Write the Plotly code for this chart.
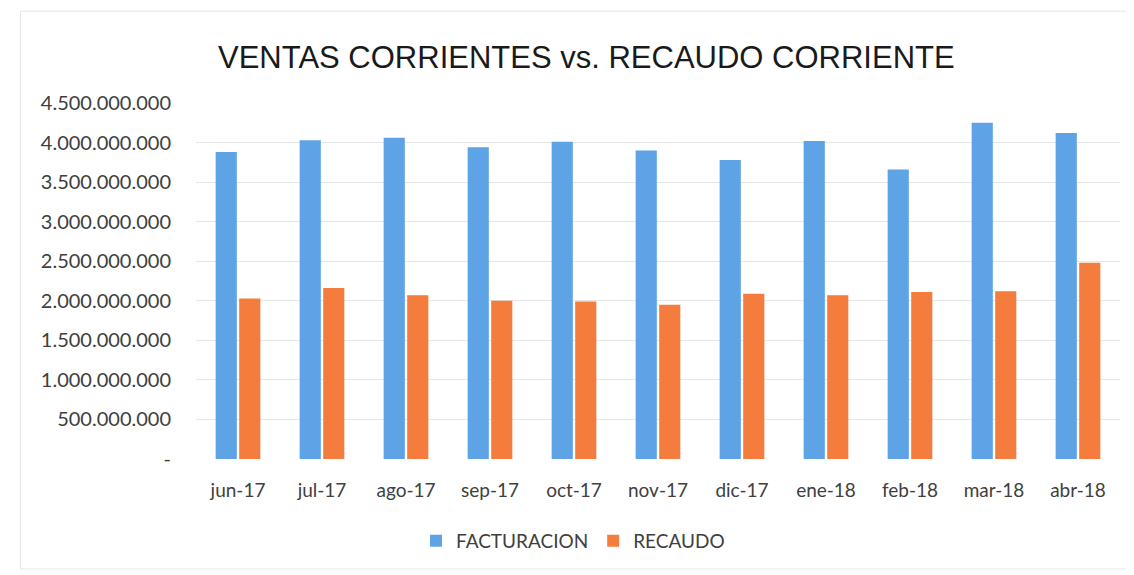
import plotly.graph_objects as go

meses = ['jun-17', 'jul-17', 'ago-17', 'sep-17', 'oct-17', 'nov-17',
         'dic-17', 'ene-18', 'feb-18', 'mar-18', 'abr-18']
facturacion = [3.88e9, 4.03e9, 4.06e9, 3.94e9, 4.01e9, 3.90e9,
               3.78e9, 4.02e9, 3.66e9, 4.25e9, 4.12e9]
recaudo = [2.03e9, 2.16e9, 2.07e9, 2.00e9, 1.99e9, 1.95e9,
           2.09e9, 2.07e9, 2.11e9, 2.12e9, 2.48e9]
y_ticks = [0, 5e8, 1e9, 1.5e9, 2e9, 2.5e9, 3e9, 3.5e9, 4e9, 4.5e9]
y_labels = ['-', '500.000.000', '1.000.000.000', '1.500.000.000', '2.000.000.000',
            '2.500.000.000', '3.000.000.000', '3.500.000.000', '4.000.000.000',
            '4.500.000.000']

colors = {'fact': '#5DA3E6', 'rec': '#F47C3C'}
font = "Lato, 'Open Sans', sans-serif"

fig = go.Figure()
fig.add_trace(go.Bar(x=meses, y=facturacion, name='FACTURACION',
                     marker=dict(color=colors['fact'], line=dict(width=0))))
fig.add_trace(go.Bar(x=meses, y=recaudo, name='RECAUDO',
                     marker=dict(color=colors['rec'], line=dict(width=0))))

fig.update_layout(
    width=1134,
    height=575,
    margin=dict(l=188, r=22, t=95, b=124),
    paper_bgcolor='white',
    plot_bgcolor='white',
    barmode='group',
    bargap=0.44,
    bargroupgap=0.1,
    font=dict(family=font, size=19, color='#404040'),
    title=dict(text='VENTAS CORRIENTES vs. RECAUDO CORRIENTE',
               x=0.51, xanchor='center', y=0.914, yanchor='middle',
               font=dict(family="'Liberation Sans', Arial, sans-serif", size=31, color='#1a1a1a')),
    legend=dict(orientation='h', x=0.408, xanchor='center', y=-0.23, yanchor='middle',
                font=dict(size=19, color='#404040'), itemwidth=30),
    showlegend=True,
    shapes=[dict(type='rect', xref='paper', yref='paper', x0=-0.19, x1=1.016,
                 y0=-0.309, y1=1.258, line=dict(color='#e6e6e6', width=1))],
)
fig.update_xaxes(showgrid=False, showline=False, ticks='', ticklabelstandoff=18,
                 tickfont=dict(size=19, color='#404040'))
fig.update_yaxes(range=[0, 4.5e9], tickvals=y_ticks, ticktext=y_labels,
                 showgrid=True, gridcolor='#e6e6e6', gridwidth=1, zeroline=False,
                 showline=False, ticks='', ticklabelstandoff=24,
                 tickfont=dict(size=20, color='#404040'))

fig.write_html("out.html")
